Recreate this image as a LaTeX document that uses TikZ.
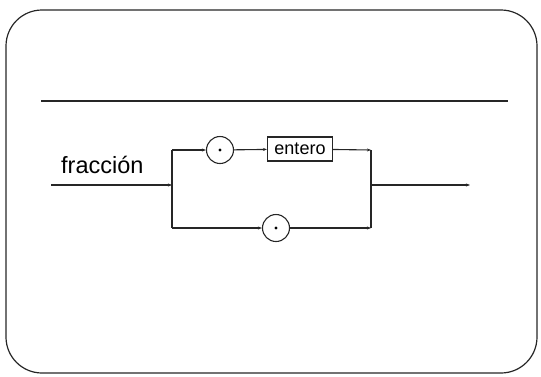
\documentclass[tikz,border=0pt]{standalone}
\usepackage{fontspec}
\setmainfont{Liberation Sans}
\usetikzlibrary{arrows.meta}
\begin{document}
\begin{tikzpicture}[x=1pt,y=-1pt,
  line/.style={draw=black!85,line width=1.1pt},
  arr/.style={line,-{Stealth[length=4pt,width=3pt]}},
  term/.style={circle,draw=black!85,line width=1.1pt,minimum size=27pt,inner sep=0pt},
  nonterm/.style={rectangle,draw=black!85,line width=1.1pt,minimum width=65pt,minimum height=24pt,inner sep=0pt,font=\fontsize{18}{18}\selectfont}]
\useasboundingbox (0,0) rectangle (541,376);
\draw[line width=1.2pt,draw=black!85,rounded corners=36pt] (6,10) rectangle (537,373);
\coordinate (hl) at (41,101);
\coordinate (hr) at (508,101);
\draw[line width=1.3pt,draw=black!85] (hl) -- (hr);
\node[anchor=base west,font=\fontsize{23.5}{23.5}\selectfont,inner sep=0pt] (lbl) at (61,173) {fracción};
\coordinate (in) at (51,185);
\coordinate (j1) at (172,185);
\coordinate (j1t) at (172,150);
\coordinate (j1b) at (172,228);
\node[term] (c1) at (220,150) {};
\fill (c1.center) circle (1.6pt);
\node[nonterm] (e) at (300,149) {entero};
\node[term] (c2) at (276,228) {};
\fill (c2.center) circle (1.6pt);
\coordinate (j2t) at (371,150);
\coordinate (j2b) at (371,228);
\coordinate (j2) at (371,185);
\coordinate (out) at (470,185);
\draw[arr] (in) -- (j1);
\draw[line] (j1t) -- (j1b);
\draw[arr] (j1t) -- (c1);
\draw[arr] (c1) -- (e);
\draw[arr] (e) -- (j2t);
\draw[arr] (j1b) -- (c2);
\draw[arr] (c2) -- (j2b);
\draw[line] (j2t) -- (j2b);
\draw[arr] (j2) -- (out);
\end{tikzpicture}
\end{document}
